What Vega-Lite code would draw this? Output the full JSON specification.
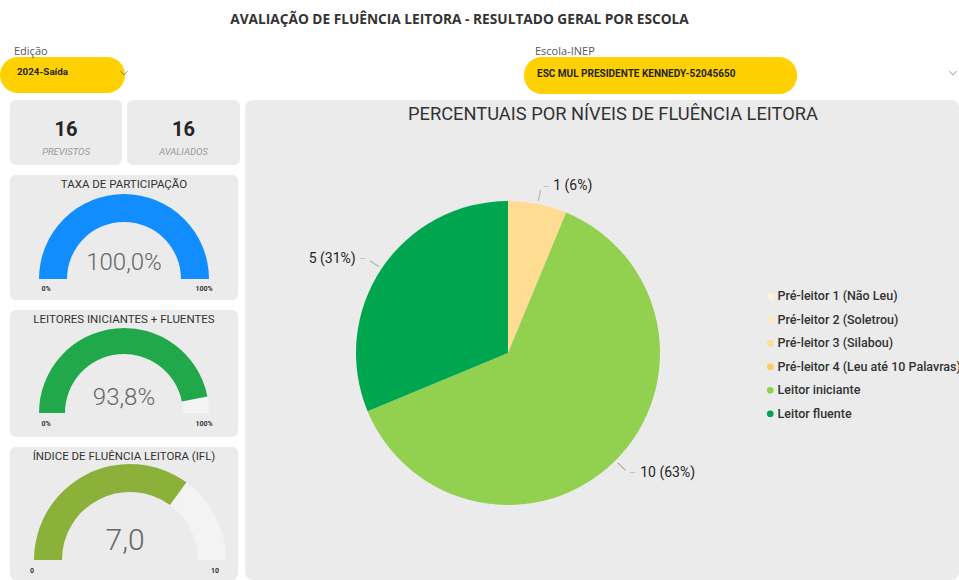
{
  "$schema": "https://vega.github.io/schema/vega-lite/v6.json",
  "padding": 0,
  "background": "#FFFFFF",
  "spacing": 0,
  "config": {
    "view": {"stroke": null},
    "font": "Roboto",
    "locale": {"number": {"decimal": ",", "thousands": ".", "grouping": [3], "currency": ["R$", ""]}}
  },
  "vconcat": [
    {
      "width": 959,
      "height": 46,
      "data": {"values": [{"titulo": "AVALIAÇÃO DE FLUÊNCIA LEITORA -  RESULTADO GERAL POR ESCOLA"}]},
      "mark": {"type": "text", "font": "Open Sans", "fontSize": 13.7, "fontWeight": "bold", "color": "#333333", "baseline": "middle", "dx": -20, "y": 20},
      "encoding": {"text": {"field": "titulo"}}
    },
    {
      "hconcat": [
        {
          "width": 125,
          "height": 36,
          "title": {"text": "Edição", "anchor": "start", "dx": 14, "fontSize": 11, "fontWeight": "normal", "color": "#555555", "font": "Open Sans", "offset": 0},
          "view": {"fill": "#FFD100", "cornerRadius": 18, "stroke": null},
          "data": {"values": [{"edicao": "2024-Saída"}]},
          "layer": [
            {"mark": {"type": "text", "align": "left", "baseline": "middle", "x": 17, "y": 15, "fontSize": 9.8, "fontWeight": "bold", "color": "#252423"}, "encoding": {"text": {"field": "edicao"}}},
            {"mark": {"type": "point", "shape": "M-1,-0.5L0,0.5L1,-0.5", "filled": false, "stroke": "#605E5C", "strokeWidth": 1, "size": 55, "x": 124, "y": 16}, "encoding": {}}
          ]
        },
        {
          "width": 394,
          "height": 43,
          "data": {"values": [{}]},
          "mark": {"type": "rect", "opacity": 0},
          "encoding": {}
        },
        {
          "width": 273,
          "height": 37,
          "title": {"text": "Escola-INEP", "anchor": "start", "dx": 11, "fontSize": 11, "fontWeight": "normal", "color": "#555555", "font": "Open Sans", "offset": 0},
          "view": {"fill": "#FFD100", "cornerRadius": 18, "stroke": null},
          "data": {"values": [{"escola": "ESC MUL PRESIDENTE KENNEDY-52045650"}]},
          "mark": {"type": "text", "align": "left", "baseline": "middle", "x": 13, "y": 17, "fontSize": 10, "fontWeight": "bold", "color": "#252423"},
          "encoding": {"text": {"field": "escola"}}
        },
        {
          "width": 162,
          "height": 37,
          "data": {"values": [{}]},
          "mark": {"type": "point", "shape": "M-1,-0.5L0,0.5L1,-0.5", "filled": false, "stroke": "#605E5C", "strokeWidth": 1, "size": 55, "x": 156, "y": 16},
          "encoding": {}
        }
      ],
      "spacing": 0
    },
    {
      "hconcat": [
        {
          "width": 5,
          "height": 10,
          "data": {"values": [{}]},
          "mark": {"type": "rect", "opacity": 0},
          "encoding": {}
        },
        {
          "vconcat": [
            {
              "hconcat": [
                {
                  "width": 112,
                  "height": 65,
                  "view": {"fill": "#EBEBEB", "cornerRadius": 6, "stroke": null},
                  "data": {"values": [{"indicador": "PREVISTOS", "valor": 16}]},
                  "layer": [
                    {"mark": {"type": "text", "y": 30, "fontSize": 20, "fontWeight": "bold", "color": "#252423", "baseline": "middle"}, "encoding": {"text": {"field": "valor", "type": "quantitative"}}},
                    {"mark": {"type": "text", "y": 52, "fontSize": 9.5, "fontStyle": "italic", "color": "#999999", "baseline": "middle"}, "encoding": {"text": {"field": "indicador"}}}
                  ]
                },
                {
                  "width": 113,
                  "height": 65,
                  "view": {"fill": "#EBEBEB", "cornerRadius": 6, "stroke": null},
                  "data": {"values": [{"indicador": "AVALIADOS", "valor": 16}]},
                  "layer": [
                    {"mark": {"type": "text", "y": 30, "fontSize": 20, "fontWeight": "bold", "color": "#252423", "baseline": "middle"}, "encoding": {"text": {"field": "valor", "type": "quantitative"}}},
                    {"mark": {"type": "text", "y": 52, "fontSize": 9.5, "fontStyle": "italic", "color": "#999999", "baseline": "middle"}, "encoding": {"text": {"field": "indicador"}}}
                  ]
                }
              ],
              "spacing": 5
            },
            {
              "width": 228,
              "height": 125,
              "view": {"fill": "#EBEBEB", "cornerRadius": 6, "stroke": null},
              "data": {"values": [{"indicador": "TAXA DE PARTICIPAÇÃO", "valor": 1.0, "minimo": "0%", "maximo": "100%"}]},
              "layer": [
                {"mark": {"type": "text", "y": 10, "fontSize": 11.5, "color": "#333333", "baseline": "middle"}, "encoding": {"text": {"field": "indicador"}}},
                {"mark": {"type": "arc", "x": 114, "y": 104, "radius": 85, "radius2": 57, "theta": -1.5708, "theta2": 1.5708, "color": "#F3F3F3"}, "encoding": {}},
                {"mark": {"type": "arc", "x": 114, "y": 104, "radius": 85, "radius2": 57, "color": "#118DFF"}, "encoding": {"theta": {"field": "valor", "type": "quantitative", "stack": null, "scale": {"domain": [0, 1], "range": [-1.5708, 1.5708]}}, "theta2": {"datum": 0}}},
                {"mark": {"type": "text", "y": 88, "fontSize": 24, "fontWeight": 300, "color": "#666666", "baseline": "middle"}, "encoding": {"text": {"field": "valor", "type": "quantitative", "format": ".1%"}}},
                {"mark": {"type": "text", "x": 36, "y": 114, "fontSize": 7, "fontWeight": "bold", "color": "#333333", "baseline": "middle"}, "encoding": {"text": {"field": "minimo"}}},
                {"mark": {"type": "text", "x": 194, "y": 114, "fontSize": 7, "fontWeight": "bold", "color": "#333333", "baseline": "middle"}, "encoding": {"text": {"field": "maximo"}}}
              ]
            },
            {
              "width": 228,
              "height": 127,
              "view": {"fill": "#EBEBEB", "cornerRadius": 6, "stroke": null},
              "data": {"values": [{"indicador": "LEITORES INICIANTES + FLUENTES", "valor": 0.938, "minimo": "0%", "maximo": "100%"}]},
              "layer": [
                {"mark": {"type": "text", "y": 10, "fontSize": 11.5, "color": "#333333", "baseline": "middle"}, "encoding": {"text": {"field": "indicador"}}},
                {"mark": {"type": "arc", "x": 114, "y": 103, "radius": 85, "radius2": 59, "theta": -1.5708, "theta2": 1.5708, "color": "#F3F3F3"}, "encoding": {}},
                {"mark": {"type": "arc", "x": 114, "y": 103, "radius": 85, "radius2": 59, "color": "#21A84A"}, "encoding": {"theta": {"field": "valor", "type": "quantitative", "stack": null, "scale": {"domain": [0, 1], "range": [-1.5708, 1.5708]}}, "theta2": {"datum": 0}}},
                {"mark": {"type": "text", "y": 88, "fontSize": 24, "fontWeight": 300, "color": "#666666", "baseline": "middle"}, "encoding": {"text": {"field": "valor", "type": "quantitative", "format": ".1%"}}},
                {"mark": {"type": "text", "x": 36, "y": 114, "fontSize": 7, "fontWeight": "bold", "color": "#333333", "baseline": "middle"}, "encoding": {"text": {"field": "minimo"}}},
                {"mark": {"type": "text", "x": 194, "y": 114, "fontSize": 7, "fontWeight": "bold", "color": "#333333", "baseline": "middle"}, "encoding": {"text": {"field": "maximo"}}}
              ]
            },
            {
              "width": 228,
              "height": 133,
              "view": {"fill": "#EBEBEB", "cornerRadius": 6, "stroke": null},
              "data": {"values": [{"indicador": "ÍNDICE DE FLUÊNCIA LEITORA (IFL)", "valor": 7.0, "minimo": "0", "maximo": "10"}]},
              "layer": [
                {"mark": {"type": "text", "y": 10, "fontSize": 11.5, "color": "#333333", "baseline": "middle"}, "encoding": {"text": {"field": "indicador"}}},
                {"mark": {"type": "arc", "x": 120, "y": 113, "radius": 96, "radius2": 68, "theta": -1.5708, "theta2": 1.5708, "color": "#F3F3F3"}, "encoding": {}},
                {"mark": {"type": "arc", "x": 120, "y": 113, "radius": 96, "radius2": 68, "color": "#8BB13B"}, "encoding": {"theta": {"field": "valor", "type": "quantitative", "stack": null, "scale": {"domain": [0, 10], "range": [-1.5708, 1.5708]}}, "theta2": {"datum": 0}}},
                {"mark": {"type": "text", "x": 115, "y": 94, "fontSize": 30, "fontWeight": 300, "color": "#666666", "baseline": "middle"}, "encoding": {"text": {"field": "valor", "type": "quantitative", "format": ".1f"}}},
                {"mark": {"type": "text", "x": 22, "y": 124, "fontSize": 7, "fontWeight": "bold", "color": "#333333", "baseline": "middle"}, "encoding": {"text": {"field": "minimo"}}},
                {"mark": {"type": "text", "x": 205, "y": 124, "fontSize": 7, "fontWeight": "bold", "color": "#333333", "baseline": "middle"}, "encoding": {"text": {"field": "maximo"}}}
              ]
            }
          ],
          "spacing": 10
        },
        {
          "width": 714,
          "height": 480,
          "view": {"fill": "#EBEBEB", "cornerRadius": 8, "stroke": null},
          "data": {
            "values": [
              {"nivel": "Pré-leitor 1 (Não Leu)", "ordem": 1, "qtd": 0, "rotulo": "0 (0%)"},
              {"nivel": "Pré-leitor 2 (Soletrou)", "ordem": 2, "qtd": 0, "rotulo": "0 (0%)"},
              {"nivel": "Pré-leitor 3 (Silabou)", "ordem": 3, "qtd": 1, "rotulo": "1 (6%)"},
              {"nivel": "Pré-leitor 4 (Leu até 10 Palavras)", "ordem": 4, "qtd": 0, "rotulo": "0 (0%)"},
              {"nivel": "Leitor iniciante", "ordem": 5, "qtd": 10, "rotulo": "10 (63%)"},
              {"nivel": "Leitor fluente", "ordem": 6, "qtd": 5, "rotulo": "5 (31%)"}
            ]
          },
          "layer": [
            {
              "data": {"values": [{"titulo": "PERCENTUAIS POR NÍVEIS DE FLUÊNCIA LEITORA"}]},
              "mark": {"type": "text", "x": 368, "y": 15, "fontSize": 18.3, "color": "#333333", "baseline": "middle"},
              "encoding": {"text": {"field": "titulo"}}
            },
            {
              "mark": {"type": "arc", "x": 263, "y": 253, "radius": 152},
              "encoding": {
                "theta": {"field": "qtd", "type": "quantitative", "stack": true},
                "order": {"field": "ordem", "type": "quantitative"},
                "color": {
                  "field": "nivel",
                  "type": "nominal",
                  "scale": {
                    "domain": ["Pré-leitor 1 (Não Leu)", "Pré-leitor 2 (Soletrou)", "Pré-leitor 3 (Silabou)", "Pré-leitor 4 (Leu até 10 Palavras)", "Leitor iniciante", "Leitor fluente"],
                    "range": ["#FFF3D6", "#FFE8B5", "#FEDD92", "#FFCB5C", "#92D050", "#00A550"]
                  },
                  "legend": {
                    "orient": "none", "legendX": 764, "legendY": 290, "title": null,
                    "symbolType": "circle", "symbolSize": 45, "symbolStrokeWidth": 0,
                    "labelFontSize": 12.5, "labelFontWeight": 500, "labelColor": "#333333", "labelFont": "Roboto",
                    "rowPadding": 10.5, "labelLimit": 400, "padding": 0, "labelOffset": 1
                  }
                }
              }
            },
            {
              "transform": [{"filter": "datum.qtd > 0"}, {"joinaggregate": [{"op": "sum", "field": "qtd", "as": "total"}]}],
              "mark": {
                "type": "text", "text": "|", "x": 263, "y": 253, "radius": 161, "fontSize": 13, "fontWeight": 300, "color": "#8A8A8A", "baseline": "middle", "align": "center",
                "angle": {"expr": "(datum.qtd_start + datum.qtd_end) / 2 / datum.total * 360"}
              },
              "encoding": {
                "theta": {"field": "qtd", "type": "quantitative", "stack": true},
                "order": {"field": "ordem", "type": "quantitative"},
                "detail": {"field": "nivel"}
              }
            },
            {
              "transform": [{"filter": "datum.qtd > 0"}],
              "mark": {
                "type": "text", "text": "—", "x": 263, "y": 253, "radius": 169, "fontSize": 8, "fontWeight": 300, "color": "#8A8A8A", "baseline": "middle",
                "align": {"expr": "datum.nivel == 'Leitor fluente' ? 'right' : 'left'"},
                "dx": {"expr": "datum.nivel == 'Leitor fluente' ? -2 : 2"}
              },
              "encoding": {
                "theta": {"field": "qtd", "type": "quantitative", "stack": true},
                "order": {"field": "ordem", "type": "quantitative"},
                "detail": {"field": "nivel"}
              }
            },
            {
              "transform": [{"filter": "datum.qtd > 0"}],
              "mark": {
                "type": "text", "x": 263, "y": 253, "radius": 170, "fontSize": 14, "fontWeight": 400, "color": "#252423", "baseline": "middle",
                "align": {"expr": "datum.nivel == 'Leitor fluente' ? 'right' : 'left'"},
                "dx": {"expr": "datum.nivel == 'Leitor fluente' ? -11 : 12"}
              },
              "encoding": {
                "theta": {"field": "qtd", "type": "quantitative", "stack": true},
                "order": {"field": "ordem", "type": "quantitative"},
                "detail": {"field": "nivel"},
                "text": {"field": "rotulo"}
              }
            }
          ]
        }
      ],
      "spacing": 5
    }
  ]
}
